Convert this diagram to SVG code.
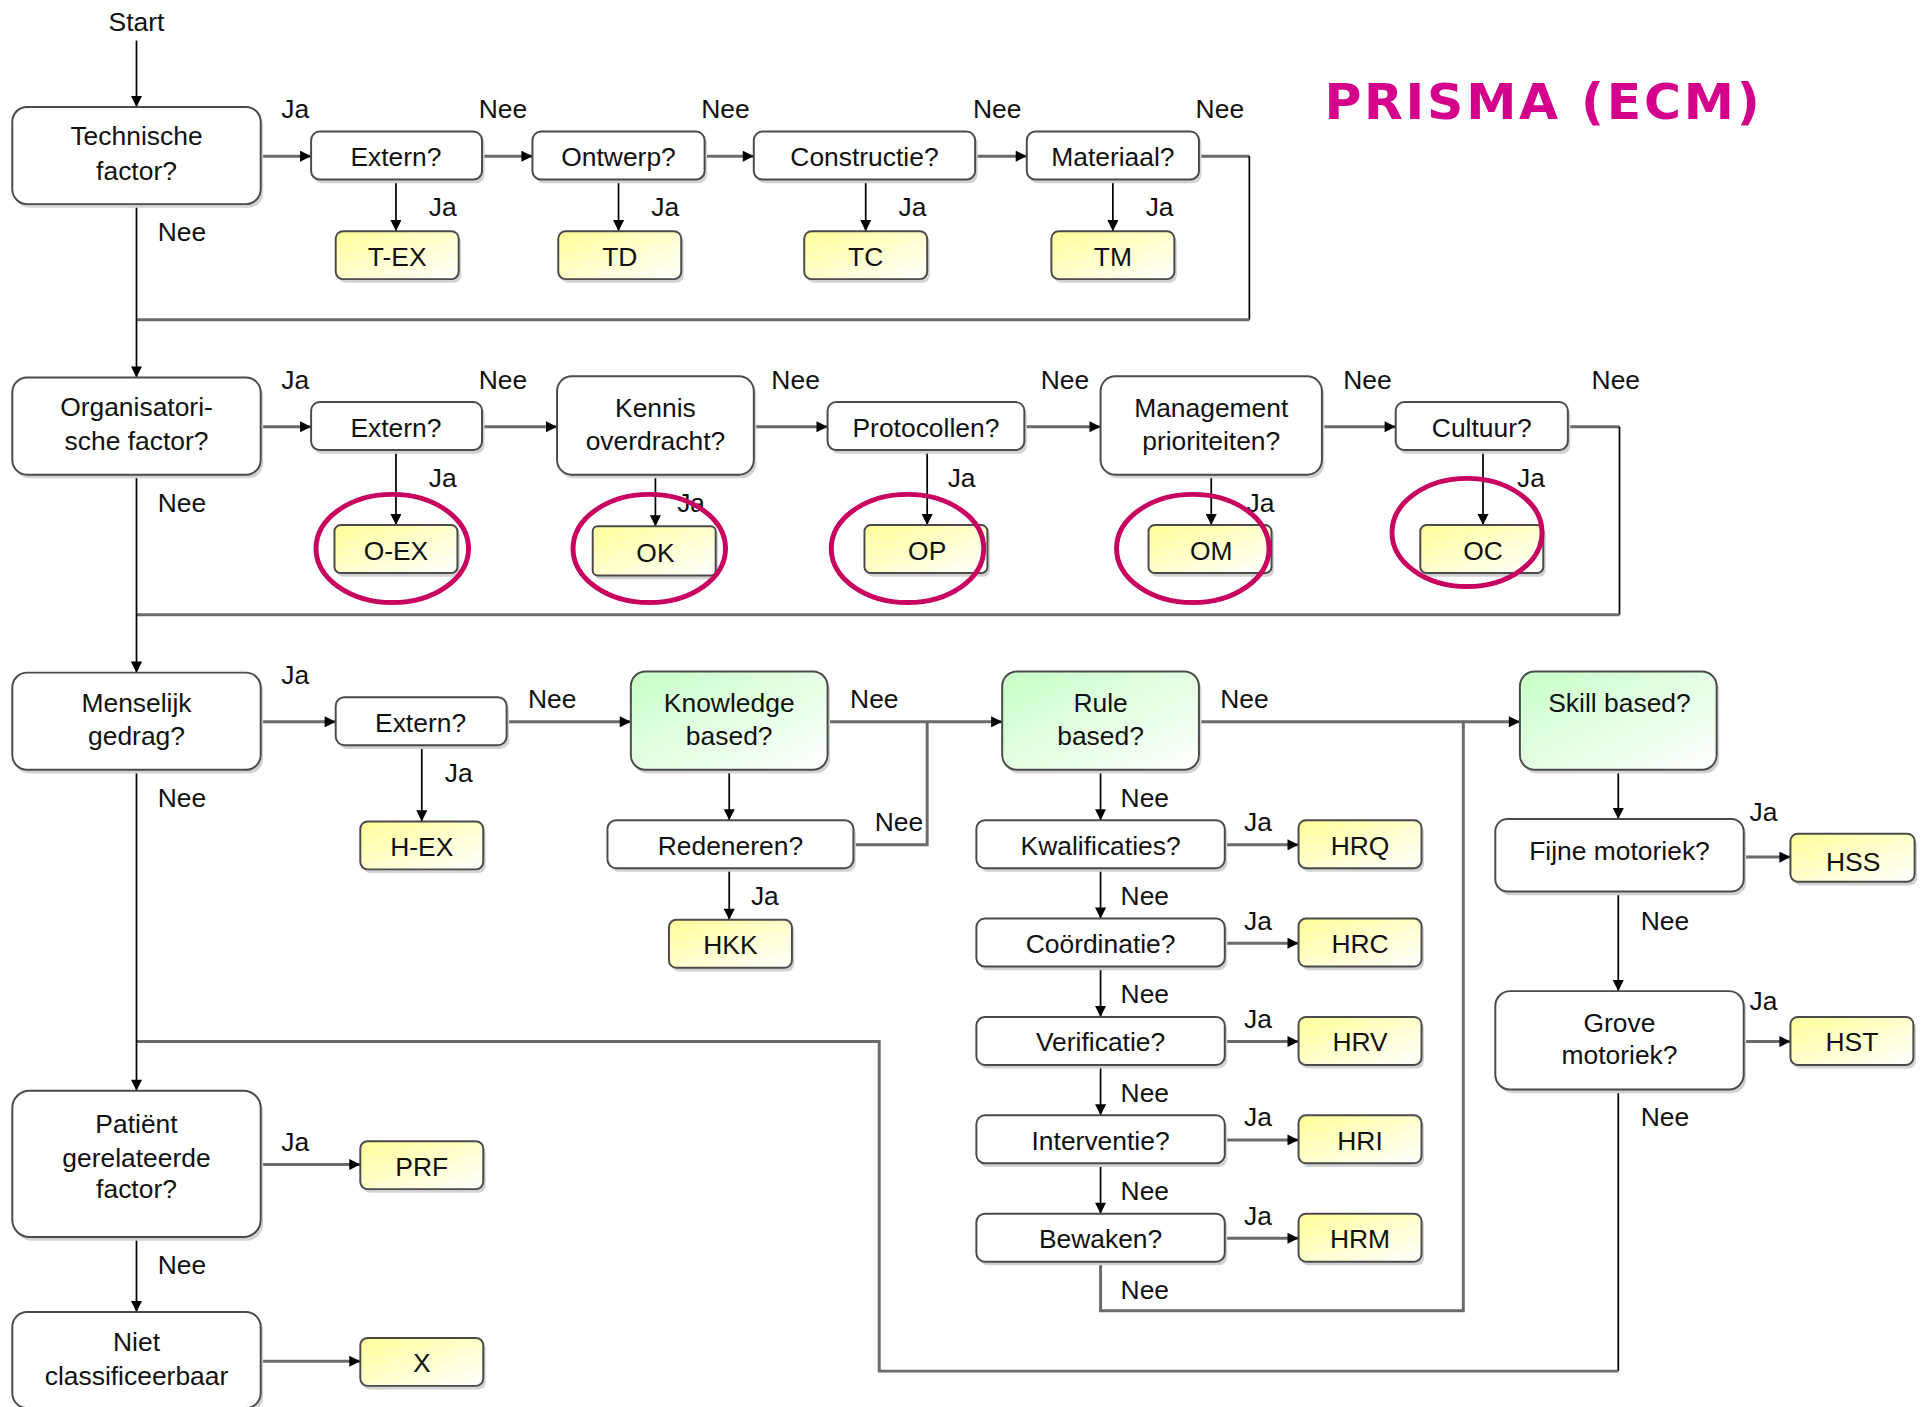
<svg xmlns="http://www.w3.org/2000/svg" width="1922" height="1407" viewBox="0 0 1922 1407">
<defs>
<linearGradient id="gy" x1="0" y1="0" x2="1" y2="1"><stop offset="0" stop-color="#ffff99"/><stop offset="1" stop-color="#ffffff"/></linearGradient>
<linearGradient id="gg" x1="0" y1="0" x2="1" y2="1"><stop offset="0" stop-color="#c6ffc6"/><stop offset="1" stop-color="#ffffff"/></linearGradient>
<marker id="ah" viewBox="0 0 10 10" refX="10" refY="5" markerWidth="10" markerHeight="9" markerUnits="userSpaceOnUse" orient="auto"><path d="M0,0 L10,5 L0,10 z" fill="#000"/></marker>
<style>
text{font-family:"Liberation Sans",Arial,sans-serif;font-size:21.5px;fill:#111;text-anchor:middle}
.sh{fill:#d2d2d2;stroke:none}
.bx{fill:#fff;stroke:#4a4a4a;stroke-width:1.6}
.yl{fill:url(#gy);stroke:#4a4a4a;stroke-width:1.6}
.gr{fill:url(#gg);stroke:#4a4a4a;stroke-width:1.6}
.h{fill:none;stroke:#6a6a6a;stroke-width:2.4}
.v{fill:none;stroke:#000;stroke-width:1.4}
.a{marker-end:url(#ah)}
.ring{fill:none;stroke:#c8005f;stroke-width:4}
.title{font-family:"DejaVu Sans",Verdana,sans-serif;font-size:41px;font-weight:bold;fill:#d4008c;text-anchor:start}
</style>
</defs>
<rect width="1922" height="1407" fill="#fff"/>
<g transform="scale(1.22969)">
<text class="title" x="1077" y="97" textLength="354" lengthAdjust="spacing">PRISMA (ECM)</text>

<g id="connectors">
<path class="v a" d="M111,33 V87"/>
<path class="h a" d="M212,127 H253"/>
<path class="h a" d="M392,127 H433"/>
<path class="h a" d="M573,127 H613"/>
<path class="h a" d="M793,127 H835"/>
<path class="h" d="M975,127 H1016"/>
<path class="v" d="M1016,127 V260"/>
<path class="h" d="M1016,260 H111"/>
<path class="v a" d="M322,146 V188"/>
<path class="v a" d="M503,146 V188"/>
<path class="v a" d="M704,146 V188"/>
<path class="v a" d="M905,146 V188"/>
<path class="v a" d="M111,166 V307"/>

<path class="h a" d="M212,347 H253"/>
<path class="h a" d="M392,347 H453"/>
<path class="h a" d="M613,347 H673"/>
<path class="h a" d="M833,347 H895"/>
<path class="h a" d="M1075,347 H1135"/>
<path class="h" d="M1275,347 H1317"/>
<path class="v" d="M1317,347 V500"/>
<path class="h" d="M1317,500 H111"/>
<path class="v a" d="M322,366 V427"/>
<path class="v a" d="M533,386 V428"/>
<path class="v a" d="M754,366 V427"/>
<path class="v a" d="M985,386 V427"/>
<path class="v a" d="M1206,366 V427"/>
<path class="v a" d="M111,386 V547"/>

<path class="h a" d="M212,587 H273"/>
<path class="h a" d="M412,587 H513"/>
<path class="h a" d="M673,587 H815"/>
<path class="h" d="M694,687 H754 V587"/>
<path class="h a" d="M975,587 H1236"/>
<path class="h" d="M895,1026 V1066 H1190 V587"/>
<path class="v a" d="M343,606 V668"/>
<path class="v a" d="M593,626 V667"/>
<path class="v a" d="M593,706 V748"/>
<path class="v a" d="M895,626 V667"/>
<path class="v a" d="M895,706 V747"/>
<path class="v a" d="M895,786 V827"/>
<path class="v a" d="M895,866 V907"/>
<path class="v a" d="M895,946 V987"/>
<path class="h a" d="M996,687 H1056"/>
<path class="h a" d="M996,767 H1056"/>
<path class="h a" d="M996,847 H1056"/>
<path class="h a" d="M996,927 H1056"/>
<path class="h a" d="M996,1007 H1056"/>
<path class="v a" d="M1316,626 V666"/>
<path class="v a" d="M1316,725 V806"/>
<path class="h a" d="M1418,697 H1456"/>
<path class="h a" d="M1418,847 H1456"/>
<path class="v" d="M1316,886 V1115"/>
<path class="h" d="M1316,1115 H715 V847 H111"/>
<path class="v a" d="M111,626 V887"/>

<path class="h a" d="M212,947 H293"/>
<path class="v a" d="M111,1006 V1067"/>
<path class="h a" d="M212,1107 H293"/>
</g>

<g id="labels">
<text x="111" y="25">Start</text>
<text x="240" y="96">Ja</text><text x="409" y="96">Nee</text><text x="590" y="96">Nee</text><text x="811" y="96">Nee</text><text x="992" y="96">Nee</text>
<text x="360" y="176">Ja</text><text x="541" y="176">Ja</text><text x="742" y="176">Ja</text><text x="943" y="176">Ja</text>
<text x="148" y="196">Nee</text>
<text x="240" y="316">Ja</text><text x="409" y="316">Nee</text><text x="647" y="316">Nee</text><text x="866" y="316">Nee</text><text x="1112" y="316">Nee</text><text x="1314" y="316">Nee</text>
<text x="360" y="396">Ja</text><text x="562" y="416">Ja</text><text x="782" y="396">Ja</text><text x="1025" y="416">Ja</text><text x="1245" y="396">Ja</text>
<text x="148" y="416">Nee</text>
<text x="240" y="556">Ja</text><text x="449" y="576">Nee</text><text x="711" y="576">Nee</text><text x="1012" y="576">Nee</text>
<text x="373" y="636">Ja</text><text x="731" y="676">Nee</text><text x="622" y="736">Ja</text>
<text x="148" y="656">Nee</text>
<text x="931" y="656">Nee</text><text x="931" y="736">Nee</text><text x="931" y="816">Nee</text><text x="931" y="896">Nee</text><text x="931" y="976">Nee</text><text x="931" y="1056">Nee</text>
<text x="1023" y="676">Ja</text><text x="1023" y="756">Ja</text><text x="1023" y="836">Ja</text><text x="1023" y="916">Ja</text><text x="1023" y="996">Ja</text>
<text x="1434" y="668">Ja</text><text x="1354" y="756">Nee</text><text x="1434" y="821">Ja</text><text x="1354" y="916">Nee</text>
<text x="240" y="936">Ja</text><text x="148" y="1036">Nee</text>
</g>

<g id="n-technische"><rect class="sh" x="12" y="90" width="202" height="79" rx="12"/><rect class="bx" x="10" y="87" width="202" height="79" rx="12"/><text x="111" y="118">Technische</text><text x="111" y="146">factor?</text></g>
<g id="n-extern1"><rect class="sh" x="255" y="110" width="139" height="39" rx="7"/><rect class="bx" x="253" y="107" width="139" height="39" rx="7"/><text x="322" y="135">Extern?</text></g>
<g id="n-ontwerp"><rect class="sh" x="435" y="110" width="140" height="39" rx="7"/><rect class="bx" x="433" y="107" width="140" height="39" rx="7"/><text x="503" y="135">Ontwerp?</text></g>
<g id="n-constructie"><rect class="sh" x="615" y="110" width="180" height="39" rx="7"/><rect class="bx" x="613" y="107" width="180" height="39" rx="7"/><text x="703" y="135">Constructie?</text></g>
<g id="n-materiaal"><rect class="sh" x="837" y="110" width="140" height="39" rx="7"/><rect class="bx" x="835" y="107" width="140" height="39" rx="7"/><text x="905" y="135">Materiaal?</text></g>
<g id="n-tex"><rect class="sh" x="275" y="191" width="100" height="39" rx="6"/><rect class="yl" x="273" y="188" width="100" height="39" rx="6"/><text x="323" y="216">T-EX</text></g>
<g id="n-td"><rect class="sh" x="456" y="191" width="100" height="39" rx="6"/><rect class="yl" x="454" y="188" width="100" height="39" rx="6"/><text x="504" y="216">TD</text></g>
<g id="n-tc"><rect class="sh" x="656" y="191" width="100" height="39" rx="6"/><rect class="yl" x="654" y="188" width="100" height="39" rx="6"/><text x="704" y="216">TC</text></g>
<g id="n-tm"><rect class="sh" x="857" y="191" width="100" height="39" rx="6"/><rect class="yl" x="855" y="188" width="100" height="39" rx="6"/><text x="905" y="216">TM</text></g>

<g id="n-organisatorische"><rect class="sh" x="12" y="310" width="202" height="79" rx="12"/><rect class="bx" x="10" y="307" width="202" height="79" rx="12"/><text x="111" y="338">Organisatori-</text><text x="111" y="366">sche factor?</text></g>
<g id="n-extern2"><rect class="sh" x="255" y="330" width="139" height="39" rx="7"/><rect class="bx" x="253" y="327" width="139" height="39" rx="7"/><text x="322" y="355">Extern?</text></g>
<g id="n-kennis"><rect class="sh" x="455" y="309" width="160" height="80" rx="12"/><rect class="bx" x="453" y="306" width="160" height="80" rx="12"/><text x="533" y="339">Kennis</text><text x="533" y="366">overdracht?</text></g>
<g id="n-protocollen"><rect class="sh" x="675" y="330" width="160" height="39" rx="7"/><rect class="bx" x="673" y="327" width="160" height="39" rx="7"/><text x="753" y="355">Protocollen?</text></g>
<g id="n-management"><rect class="sh" x="897" y="309" width="180" height="80" rx="12"/><rect class="bx" x="895" y="306" width="180" height="80" rx="12"/><text x="985" y="339">Management</text><text x="985" y="366">prioriteiten?</text></g>
<g id="n-cultuur"><rect class="sh" x="1137" y="330" width="140" height="39" rx="7"/><rect class="bx" x="1135" y="327" width="140" height="39" rx="7"/><text x="1205" y="355">Cultuur?</text></g>
<g id="n-oex"><rect class="sh" x="274" y="430" width="100" height="39" rx="5"/><rect class="yl" x="272" y="427" width="100" height="39" rx="5" stroke-width="2.2"/><text x="322" y="455">O-EX</text></g>
<g id="n-ok"><rect class="sh" x="484" y="431" width="100" height="40" rx="4"/><rect class="yl" x="482" y="428" width="100" height="40" rx="4" stroke="#000" stroke-width="2.6"/><text x="533" y="457">OK</text></g>
<g id="n-op"><rect class="sh" x="705" y="430" width="100" height="39" rx="5"/><rect class="yl" x="703" y="427" width="100" height="39" rx="5" stroke-width="2.2"/><text x="754" y="455">OP</text></g>
<g id="n-om"><rect class="sh" x="936" y="430" width="100" height="39" rx="5"/><rect class="yl" x="934" y="427" width="100" height="39" rx="5" stroke-width="2.2"/><text x="985" y="455">OM</text></g>
<g id="n-oc"><rect class="sh" x="1157" y="430" width="100" height="39" rx="5"/><rect class="yl" x="1155" y="427" width="100" height="39" rx="5" stroke-width="2.2"/><text x="1206" y="455">OC</text></g>
<g id="rings">
<ellipse class="ring" cx="319" cy="446" rx="62" ry="44"/>
<ellipse class="ring" cx="528" cy="446" rx="62" ry="44"/>
<ellipse class="ring" cx="738" cy="446" rx="62" ry="44"/>
<ellipse class="ring" cx="970" cy="446" rx="62" ry="44"/>
<ellipse class="ring" cx="1193" cy="433" rx="61" ry="44"/>
</g>

<g id="n-menselijk"><rect class="sh" x="12" y="550" width="202" height="79" rx="12"/><rect class="bx" x="10" y="547" width="202" height="79" rx="12"/><text x="111" y="579">Menselijk</text><text x="111" y="606">gedrag?</text></g>
<g id="n-extern3"><rect class="sh" x="275" y="570" width="139" height="39" rx="7"/><rect class="bx" x="273" y="567" width="139" height="39" rx="7"/><text x="342" y="595">Extern?</text></g>
<g id="n-hex"><rect class="sh" x="295" y="671" width="100" height="39" rx="6"/><rect class="yl" x="293" y="668" width="100" height="39" rx="6"/><text x="343" y="696">H-EX</text></g>
<g id="n-knowledge"><rect class="sh" x="515" y="549" width="160" height="80" rx="12"/><rect class="gr" x="513" y="546" width="160" height="80" rx="12"/><text x="593" y="579">Knowledge</text><text x="593" y="606">based?</text></g>
<g id="n-redeneren"><rect class="sh" x="496" y="670" width="200" height="39" rx="7"/><rect class="bx" x="494" y="667" width="200" height="39" rx="7"/><text x="594" y="695">Redeneren?</text></g>
<g id="n-hkk"><rect class="sh" x="546" y="751" width="100" height="39" rx="6"/><rect class="yl" x="544" y="748" width="100" height="39" rx="6"/><text x="594" y="776">HKK</text></g>
<g id="n-rule"><rect class="sh" x="817" y="549" width="160" height="80" rx="12"/><rect class="gr" x="815" y="546" width="160" height="80" rx="12"/><text x="895" y="579">Rule</text><text x="895" y="606">based?</text></g>
<g id="n-kwal"><rect class="sh" x="796" y="670" width="202" height="39" rx="7"/><rect class="bx" x="794" y="667" width="202" height="39" rx="7"/><text x="895" y="695">Kwalificaties?</text></g>
<g id="n-coord"><rect class="sh" x="796" y="750" width="202" height="39" rx="7"/><rect class="bx" x="794" y="747" width="202" height="39" rx="7"/><text x="895" y="775">Coördinatie?</text></g>
<g id="n-verif"><rect class="sh" x="796" y="830" width="202" height="39" rx="7"/><rect class="bx" x="794" y="827" width="202" height="39" rx="7"/><text x="895" y="855">Verificatie?</text></g>
<g id="n-interv"><rect class="sh" x="796" y="910" width="202" height="39" rx="7"/><rect class="bx" x="794" y="907" width="202" height="39" rx="7"/><text x="895" y="935">Interventie?</text></g>
<g id="n-bewaken"><rect class="sh" x="796" y="990" width="202" height="39" rx="7"/><rect class="bx" x="794" y="987" width="202" height="39" rx="7"/><text x="895" y="1015">Bewaken?</text></g>
<g id="n-hrq"><rect class="sh" x="1058" y="670" width="100" height="39" rx="6"/><rect class="yl" x="1056" y="667" width="100" height="39" rx="6"/><text x="1106" y="695">HRQ</text></g>
<g id="n-hrc"><rect class="sh" x="1058" y="750" width="100" height="39" rx="6"/><rect class="yl" x="1056" y="747" width="100" height="39" rx="6"/><text x="1106" y="775">HRC</text></g>
<g id="n-hrv"><rect class="sh" x="1058" y="830" width="100" height="39" rx="6"/><rect class="yl" x="1056" y="827" width="100" height="39" rx="6"/><text x="1106" y="855">HRV</text></g>
<g id="n-hri"><rect class="sh" x="1058" y="910" width="100" height="39" rx="6"/><rect class="yl" x="1056" y="907" width="100" height="39" rx="6"/><text x="1106" y="935">HRI</text></g>
<g id="n-hrm"><rect class="sh" x="1058" y="990" width="100" height="39" rx="6"/><rect class="yl" x="1056" y="987" width="100" height="39" rx="6"/><text x="1106" y="1015">HRM</text></g>
<g id="n-skill"><rect class="sh" x="1238" y="549" width="160" height="80" rx="12"/><rect class="gr" x="1236" y="546" width="160" height="80" rx="12"/><text x="1317" y="579">Skill based?</text></g>
<g id="n-fijne"><rect class="sh" x="1218" y="669" width="202" height="59" rx="10"/><rect class="bx" x="1216" y="666" width="202" height="59" rx="10"/><text x="1317" y="699">Fijne motoriek?</text></g>
<g id="n-hss"><rect class="sh" x="1458" y="681" width="101" height="39" rx="6"/><rect class="yl" x="1456" y="678" width="101" height="39" rx="6"/><text x="1507" y="708">HSS</text></g>
<g id="n-grove"><rect class="sh" x="1218" y="809" width="202" height="80" rx="12"/><rect class="bx" x="1216" y="806" width="202" height="80" rx="12"/><text x="1317" y="839">Grove</text><text x="1317" y="865">motoriek?</text></g>
<g id="n-hst"><rect class="sh" x="1458" y="830" width="100" height="39" rx="6"/><rect class="yl" x="1456" y="827" width="100" height="39" rx="6"/><text x="1506" y="855">HST</text></g>

<g id="n-patient"><rect class="sh" x="12" y="890" width="202" height="119" rx="14"/><rect class="bx" x="10" y="887" width="202" height="119" rx="14"/><text x="111" y="921">Patiënt</text><text x="111" y="949">gerelateerde</text><text x="111" y="974">factor?</text></g>
<g id="n-prf"><rect class="sh" x="295" y="931" width="100" height="39" rx="6"/><rect class="yl" x="293" y="928" width="100" height="39" rx="6"/><text x="343" y="956">PRF</text></g>
<g id="n-niet"><rect class="sh" x="12" y="1070" width="202" height="78" rx="12"/><rect class="bx" x="10" y="1067" width="202" height="78" rx="12"/><text x="111" y="1099">Niet</text><text x="111" y="1126">classificeerbaar</text></g>
<g id="n-x"><rect class="sh" x="295" y="1091" width="100" height="39" rx="6"/><rect class="yl" x="293" y="1088" width="100" height="39" rx="6"/><text x="343" y="1116">X</text></g>
</g>
</svg>
